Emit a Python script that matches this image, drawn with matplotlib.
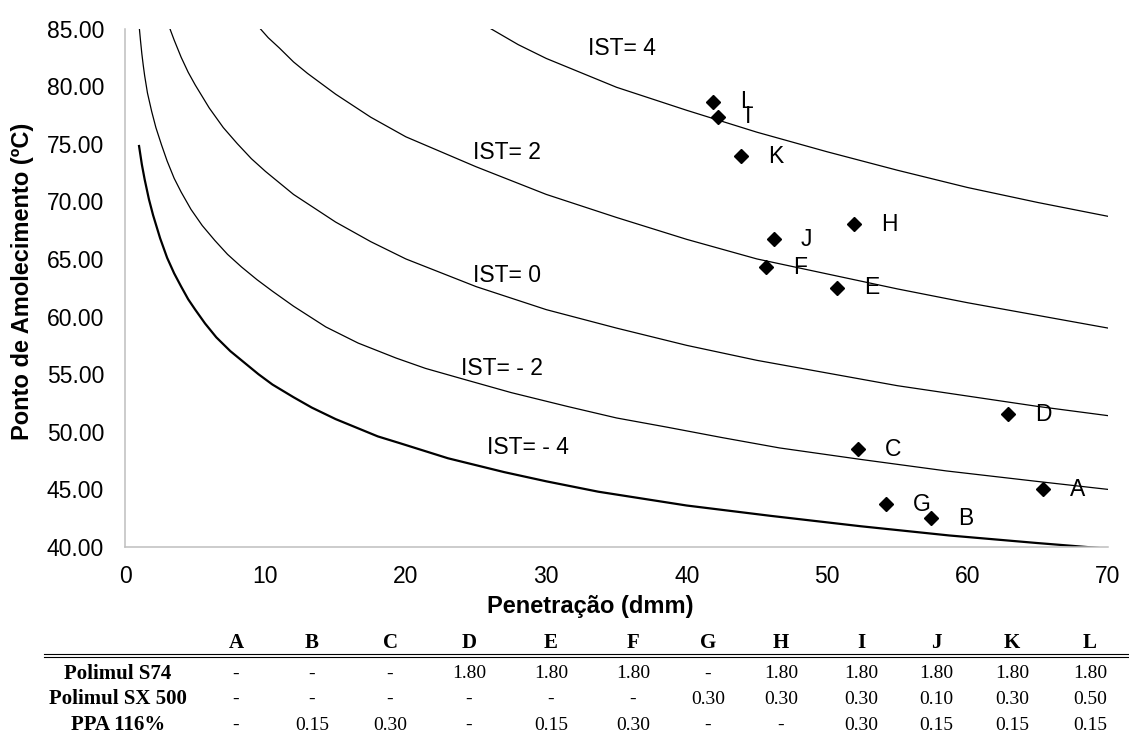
import matplotlib
matplotlib.use('Agg')
import matplotlib.pyplot as plt
from matplotlib.ticker import FormatStrFormatter

plt.rcParams['font.family'] = ['Liberation Sans', 'DejaVu Sans']

# IST reference curves: penetration (dmm) -> softening point (ºC)
pen_m4 = [1.0, 1.2, 1.4, 1.7, 2.0, 2.5, 3.0, 3.5, 4.0, 4.5, 5.0, 5.7, 6.5, 7.5, 8.5, 9.5, 10.5, 12.0,
          13.3, 15.0, 16.6, 18.0, 19.6, 23.0, 27.0, 30.0, 33.7, 40.0, 46.0, 52.4, 58.7, 64.9, 70.0]
t_m4 = [74.8, 73.2, 71.9, 70.2, 68.8, 66.8, 65.1, 63.75, 62.6, 61.5, 60.6, 59.4, 58.2, 57.0, 56.0, 55.0, 54.1, 53.0,
        52.1, 51.1, 50.3, 49.6, 49.0, 47.7, 46.5, 45.7, 44.8, 43.6, 42.7, 41.8, 41.0, 40.35, 39.85]

pen_m2 = [1.0, 1.1, 1.2, 1.3, 1.4, 1.6, 1.9, 2.2, 2.6, 3.0, 3.5, 4.0, 4.7, 5.5, 6.4, 7.3, 8.3, 9.4, 10.5,
          12.0, 14.3, 16.6, 19.3, 21.4, 24.0, 27.5, 31.5, 35.0, 38.6, 42.5, 46.6, 52.4, 58.5, 64.9, 70.0]
t_m2 = [85.3, 84.0, 82.8, 81.8, 80.9, 79.4, 77.8, 76.4, 74.9, 73.5, 72.0, 70.8, 69.3, 67.9, 66.6, 65.4, 64.3, 63.2, 62.2,
        60.9, 59.1, 57.7, 56.4, 55.5, 54.6, 53.4, 52.2, 51.2, 50.4, 49.5, 48.6, 47.6, 46.6, 45.7, 45.0]

pen_0 = [3.1, 3.5, 4, 4.5, 5, 6, 7, 8, 9, 10, 12, 15, 17.5, 20, 25, 30, 35, 40, 45, 50, 55, 60, 65, 70]
t_0 = [85.3, 84.0, 82.5, 81.2, 80.1, 78.1, 76.4, 75.0, 73.7, 72.6, 70.6, 68.2, 66.5, 65.0, 62.6, 60.6,
       59.0, 57.5, 56.2, 55.1, 54.0, 53.1, 52.2, 51.4]

pen_2 = [9.4, 10.2, 11, 12, 13, 15, 17.5, 20, 22.5, 25, 30, 35, 40, 45, 50, 55, 60, 65, 70]
t_2 = [85.3, 84.2, 83.3, 82.1, 81.1, 79.3, 77.3, 75.6, 74.3, 73.0, 70.6, 68.6, 66.7, 65.0, 63.7, 62.4,
       61.2, 60.1, 59.0]

pen_4 = [25.6, 28, 30, 35, 40, 45, 50, 55, 60, 65, 70]
t_4 = [85.3, 83.6, 82.4, 79.9, 77.9, 76.0, 74.3, 72.7, 71.2, 69.9, 68.7]

# samples
sample_labels = ['A', 'B', 'C', 'D', 'E', 'F', 'G', 'H', 'I', 'J', 'K', 'L']
sample_pen = [65.4, 57.4, 52.2, 62.9, 50.7, 45.65, 54.2, 51.9, 42.2, 46.2, 43.9, 41.9]
sample_t = [45.0, 42.5, 48.5, 51.5, 62.5, 64.3, 43.7, 68.0, 77.35, 66.7, 73.9, 78.65]

# composition table
row_names = ['Polimul S74', 'Polimul SX 500', 'PPA 116%']
s74 = ['-', '-', '-', '1.80', '1.80', '1.80', '-', '1.80', '1.80', '1.80', '1.80', '1.80']
sx500 = ['-', '-', '-', '-', '-', '-', '0.30', '0.30', '0.30', '0.10', '0.30', '0.50']
ppa = ['-', '0.15', '0.30', '-', '0.15', '0.30', '-', '-', '0.30', '0.15', '0.15', '0.15']

W, H = 1129, 742
fig = plt.figure(figsize=(W / 100, H / 100), dpi=100)
ax = fig.add_axes([125 / W, 1 - 547 / H, 983 / W, (547 - 28.5) / H])

ax.plot(pen_m4, t_m4, color='black', lw=1.6)
for px, ty in [(pen_m2, t_m2), (pen_0, t_0), (pen_2, t_2), (pen_4, t_4)]:
    ax.plot(px, ty, color='black', lw=0.9)

ax.plot(sample_pen, sample_t, linestyle='none', marker='D', ms=7.5, color='black')
for lab, x, y in zip(sample_labels, sample_pen, sample_t):
    ax.annotate(lab, (x, y), xytext=(27, 0), textcoords='offset pixels',
                ha='left', va='center', fontsize=16.5)

# curve labels
ax.text(33.0, 83.3, 'IST= 4', fontsize=16.5, va='center')
ax.text(24.8, 74.2, 'IST= 2', fontsize=16.5, va='center')
ax.text(24.8, 63.6, 'IST= 0', fontsize=16.5, va='center')
ax.text(23.9, 55.45, 'IST= - 2', fontsize=16.5, va='center')
ax.text(25.8, 48.6, 'IST= - 4', fontsize=16.5, va='center')

ax.set_xlim(0, 70)
ax.set_ylim(40, 85)
ax.set_xticks(range(0, 71, 10))
ax.set_yticks(range(40, 86, 5))
ax.yaxis.set_major_formatter(FormatStrFormatter('%.2f'))
ax.tick_params(length=0, labelsize=16.5)
ax.tick_params(axis='y', pad=15)
ax.tick_params(axis='x', pad=13)
for s in ['top', 'right']:
    ax.spines[s].set_visible(False)
for s in ['left', 'bottom']:
    ax.spines[s].set_color('#BFBFBF')
    ax.spines[s].set_linewidth(1.1)

fig.text(590 / W, 1 - 607 / H, 'Penetração (dmm)', ha='center', va='center',
         fontsize=17, fontweight='bold')
fig.text(23 / W, 1 - 281 / H, 'Ponto de Amolecimento (ºC)', ha='center', va='center',
         rotation=90, fontsize=17, fontweight='bold')

# table under the chart
serif = ['Liberation Serif', 'DejaVu Serif']
col_x = [236, 312, 390, 469, 551, 633, 708, 781, 861, 936, 1012, 1090]
fig.add_artist(plt.Line2D([44 / W, 1], [1 - 654 / H] * 2, color='black', lw=0.8))
fig.add_artist(plt.Line2D([44 / W, 1], [1 - 656.5 / H] * 2, color='black', lw=0.8))
for lab, x in zip(sample_labels, col_x):
    fig.text(x / W, 1 - 643 / H, lab, ha='center', va='center', fontsize=15,
             fontweight='bold', family=serif)
for name, vals, y in zip(row_names, [s74, sx500, ppa], [674, 699, 725]):
    fig.text(118 / W, 1 - y / H, name, ha='center', va='center', fontsize=15,
             fontweight='bold', family=serif)
    for v, x in zip(vals, col_x):
        fig.text(x / W, 1 - y / H, v, ha='center', va='center', fontsize=14,
                 family=serif)

fig.savefig('out.png', dpi=100)
